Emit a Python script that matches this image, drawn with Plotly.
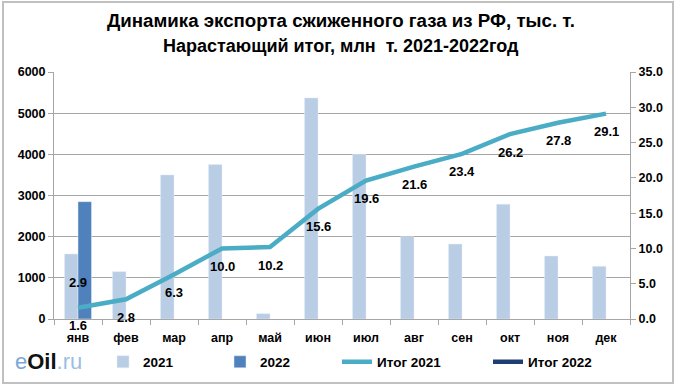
import plotly.graph_objects as go

months = ["янв", "фев", "мар", "апр", "май", "июн", "июл", "авг", "сен", "окт", "ноя", "дек"]
exp_2021 = [1580, 1150, 3500, 3750, 130, 5370, 4000, 2000, 1820, 2790, 1530, 1280]
exp_2022 = [2850, None, None, None, None, None, None, None, None, None, None, None]
total_2021 = [1.6, 2.8, 6.3, 10.0, 10.2, 15.6, 19.6, 21.6, 23.4, 26.2, 27.8, 29.1]
total_2022 = [2.9]
left_ticks = [0, 1000, 2000, 3000, 4000, 5000, 6000]
right_ticks = [0, 5, 10, 15, 20, 25, 30, 35]

TITLE_1 = "Динамика экспорта сжиженного газа из РФ, тыс. т."
TITLE_2 = "Нарастающий итог, млн  т. 2021-2022год"

W, H = 682, 389
L, R, T, B = 54, 52, 72, 70
pw, ph = W - L - R, H - T - B

FONT = "Liberation Sans, Arial, sans-serif"


def px_x(x):
    return (x - L) / pw


def px_y(y):
    return (H - B - y) / ph


fig = go.Figure()
fig.add_trace(go.Bar(x=months, y=exp_2021, name="2021", marker_color="#B9CDE5",
                     legend="legend"))
fig.add_trace(go.Bar(x=months, y=exp_2022, name="2022", marker_color="#4F81BD",
                     legend="legend2"))
fig.add_trace(go.Scatter(x=months, y=total_2021, name="Итог 2021", mode="lines",
                         line=dict(color="#4BACC6", width=4.5), yaxis="y2",
                         legend="legend3"))
fig.add_trace(go.Scatter(x=months[:len(total_2022)], y=total_2022, name="Итог 2022",
                         mode="lines", line=dict(color="#1F3F74", width=4.5),
                         yaxis="y2", legend="legend4"))

labfont = dict(family=FONT, size=13, color="black", weight="bold")
annotations = []
for m, v in zip(months, total_2021):
    annotations.append(dict(x=m, y=v, xref="x", yref="y2", text=f"{v:.1f}",
                            showarrow=False, yshift=-18, font=labfont))
for m, v in zip(months, total_2022):
    annotations.append(dict(x=m, y=v, xref="x", yref="y2", text=f"{v:.1f}",
                            showarrow=False, yshift=16, font=labfont))

# second title line
annotations.append(dict(xref="paper", yref="paper", x=px_x(341), y=px_y(46),
                        xanchor="center", yanchor="middle", showarrow=False,
                        text=TITLE_2,
                        font=dict(family=FONT, size=18, color="black", weight="bold")))

# logo
annotations.append(dict(xref="paper", yref="paper", x=px_x(13), y=px_y(361),
                        xanchor="left", yanchor="middle", showarrow=False,
                        text="<span style='color:#7BA7D7'>e</span><b><span style='color:#111111'>Oil</span></b><span style='color:#9ABFE0'>.ru</span>",
                        font=dict(family=FONT, size=22)))

shapes = [dict(type="rect", xref="paper", yref="paper",
               x0=px_x(3), x1=px_x(673), y0=px_y(383), y1=px_y(2),
               line=dict(color="#C0C0C0", width=2), fillcolor="rgba(0,0,0,0)", layer="below")]

tickfont = dict(family=FONT, size=12.5, color="black", weight="bold")
legfont = dict(family=FONT, size=13.5, color="black", weight="bold")


def leg(xpx):
    return dict(orientation="h", xref="container", yref="container",
                x=xpx / W, y=1 - 362 / H, xanchor="left", yanchor="middle",
                font=legfont, bgcolor="rgba(0,0,0,0)", itemwidth=30)


fig.update_layout(
    width=W, height=H,
    margin=dict(l=L, r=R, t=T, b=B, autoexpand=False),
    paper_bgcolor="white", plot_bgcolor="white",
    title=dict(text=TITLE_1, x=0.5, xref="container", xanchor="center",
               y=1 - 20 / H, yref="container", yanchor="middle",
               font=dict(family=FONT, size=18.7, color="black", weight="bold")),
    barmode="group", bargap=0.4375, bargroupgap=0,
    xaxis=dict(type="category", showgrid=False, showline=True, linecolor="#A6A6A6",
               linewidth=1, ticks="outside", tickson="boundaries", ticklen=5,
               tickcolor="#A6A6A6", tickfont=tickfont, automargin=False,
               ticklabelstandoff=7),
    yaxis=dict(range=[0, 6000], tickvals=left_ticks, showgrid=True, gridcolor="#A6A6A6",
               gridwidth=1, showline=True, linecolor="#A6A6A6", ticks="outside",
               ticklen=5, tickcolor="#A6A6A6", tickfont=tickfont, zeroline=False,
               automargin=False),
    yaxis2=dict(range=[0, 35], tickvals=right_ticks, tickformat=".1f", overlaying="y",
                side="right", showgrid=False, showline=True, linecolor="#A6A6A6",
                ticks="outside", ticklen=5, tickcolor="#A6A6A6", tickfont=tickfont,
                zeroline=False, automargin=False),
    legend=leg(103), legend2=leg(220), legend3=leg(337), legend4=leg(488),
    annotations=annotations, shapes=shapes,
    showlegend=True,
)

fig.write_html("out.html", config={"displayModeBar": False},
               post_script="document.body.style.margin='0';document.body.style.overflow='hidden';")
